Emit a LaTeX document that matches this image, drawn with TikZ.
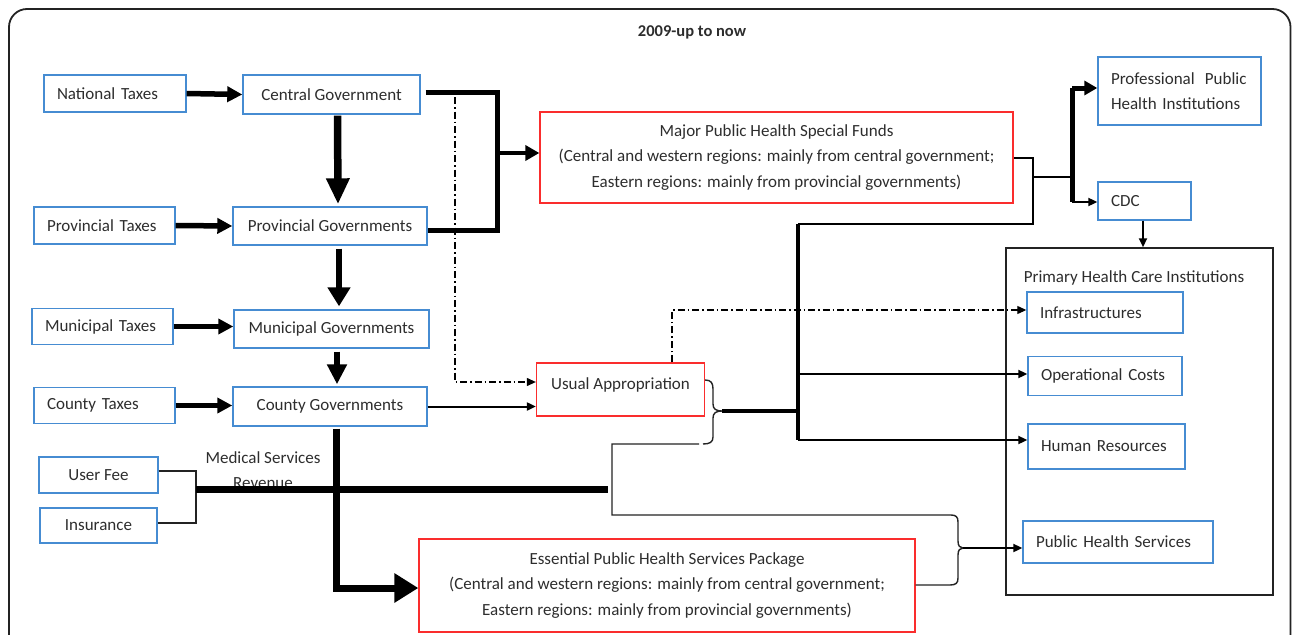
\documentclass[tikz,border=0pt]{standalone}
\usepackage{fontspec}
\setmainfont{Carlito}
\usetikzlibrary{arrows.meta,calc}
\definecolor{bbl}{RGB}{70,140,210}
\definecolor{rd}{RGB}{250,45,45}
\definecolor{tx}{RGB}{45,45,45}
\definecolor{fr}{RGB}{35,35,35}
\begin{document}
\begin{tikzpicture}[x=1pt,y=-1pt,
  every node/.style={font=\fontsize{17}{25.5}\selectfont, text=tx, inner sep=0pt},
  bbox/.style={draw=bbl, line width=1.4pt, align=center},
  lbox/.style={draw=bbl, line width=1.4pt, align=left, inner xsep=13pt, text width=#1},
  rbox/.style={draw=rd, line width=1.3pt, align=center},
  kbox/.style={draw=fr, line width=1.5pt},
  thinl/.style={draw=fr, line width=1.4pt},
  midl/.style={draw=black, line width=2pt},
  smallhead/.style={-{Triangle[length=9pt,width=8pt]}},
  dashdotl/.style={draw=black, line width=1.1pt, dash pattern=on 7pt off 3pt on 1.5pt off 3pt},
  taxarrow/.style={draw=black, line width=5.5pt, -{Triangle[length=15pt,width=15pt]}},
  downarrow/.style={draw=black, line width=6.5pt, -{Triangle[length=#1,width=22pt]}},
]
\clip (0,0) rectangle (1292,634);
\useasboundingbox (0,0) rectangle (1292,634);
% outer frame
\draw[fr, line width=1.8pt, rounded corners=18pt] (9,660) -- (9,9) -- (1290.5,9) -- (1290.5,660);

\node[font=\bfseries\fontsize{16.5}{18}\selectfont] (title) at (692,32) {2009-up to now};

% left column
\node[lbox=116pt, minimum width=142pt, minimum height=37pt] (nat) at (115,93.5) {National Taxes};
\node[bbox, minimum width=177pt, minimum height=39pt] (cen) at (331.5,94.5) {Central Government};
\node[lbox=115pt, minimum width=141pt, minimum height=37pt] (provt) at (104.5,225.5) {Provincial Taxes};
\node[bbox, minimum width=194pt, minimum height=38pt] (prov) at (330,226) {Provincial Governments};
\node[lbox=115pt, minimum width=141pt, minimum height=36pt] (munt) at (102.5,326.5) {Municipal Taxes};
\node[bbox, minimum width=195pt, minimum height=38pt] (mun) at (331.5,329) {Municipal Governments};
\node[lbox=115pt, minimum width=141pt, minimum height=36pt] (cout) at (104.5,405.5) {County Taxes};
\node[bbox, minimum width=194pt, minimum height=39pt] (cou) at (330,406.5) {County Governments};
\node[bbox, minimum width=119pt, minimum height=36pt] (user) at (98.5,475) {User Fee};
\node[bbox, minimum width=117pt, minimum height=35pt] (ins) at (98.5,525.5) {Insurance};
\node[align=center, font=\fontsize{17}{25}\selectfont] (medrev) at (263,470.5) {Medical Services\\Revenue};

% red boxes
\node[rbox, minimum width=473pt, minimum height=91pt] (major) at (776.5,157.5)
  {Major Public Health Special Funds\\(Central and western regions: mainly from central government;\\Eastern regions: mainly from provincial governments)};
\node[rbox, minimum width=168pt, text height=26pt, text depth=27pt] (usual) at (620.5,389.5) {Usual Appropriation};
\node[rbox, minimum width=496pt, minimum height=93pt] (essential) at (667,585.5)
  {Essential Public Health Services Package\\(Central and western regions: mainly from central government;\\Eastern regions: mainly from provincial governments)};

% right column
\node[lbox=137pt, minimum width=163pt, minimum height=68pt] (prof) at (1179.5,91)
  {Professional\hspace{0.6em}Public\\Health Institutions};
\node[lbox=67pt, minimum width=93pt, minimum height=38pt] (cdc) at (1144.5,201) {CDC};
\node[kbox, minimum width=267pt, minimum height=347pt] (phc) at (1139.5,421.5) {};
\node (phctitle) at (1134,278) {Primary Health Care Institutions};
\node[lbox=130pt, minimum width=156pt, minimum height=41pt] (infra) at (1105,312.5) {Infrastructures};
\node[lbox=128pt, minimum width=154pt, minimum height=39pt] (oper) at (1105,376) {Operational Costs};
\node[lbox=131pt, minimum width=157pt, minimum height=45pt] (hum) at (1106.5,446.5) {Human Resources};
\node[lbox=164pt, minimum width=190pt, minimum height=42pt] (phs) at (1118,542) {Public Health Services};

% free-end coordinates
\coordinate (mjA) at (497,92);
\coordinate (mjB) at (497,230);
\coordinate (mjC) at (497,153);
\coordinate (dd) at (455,97);
\coordinate (ddB) at (455,382);
\coordinate (ubA) at (672,310);
\coordinate (brA) at (722,411);
\coordinate (v1) at (798,411);
\coordinate (vt) at (798,224);
\coordinate (vb) at (798,440);
\coordinate (vo) at (798,374);
\coordinate (rq) at (1033,224);
\coordinate (rm) at (1033,177);
\coordinate (rt) at (1072,88);
\coordinate (rb) at (1072,202);
\coordinate (rc) at (1072,177);
\coordinate (jA) at (612,444);
\coordinate (jB) at (612,515);
\coordinate (brB) at (963,548);
\coordinate (fb) at (196,489);
\coordinate (fe) at (608,489);
\coordinate (cd) at (336,588);

% tax arrows
\draw[taxarrow] (nat.east) -- (cen.west);
\draw[taxarrow] (provt.east) -- (prov.west);
\draw[taxarrow] (munt.east) -- (munt.east -| mun.west);
\draw[taxarrow] (cout.east) -- (cout.east -| cou.west);
% government chain
\draw[downarrow=26pt, line width=7.5pt] ($(cen.south)+(6,1)$) -- ($(prov.north)+(8,-2)$);
\draw[downarrow=19pt] ($(prov.south)+(9,3)$) -- ($(mun.north)+(7.5,-3)$);
\draw[draw=black, line width=6.5pt, -{Triangle[length=20pt,width=19pt]}] ($(mun.south)+(5.5,3)$) -- ($(cou.north)+(7,-2)$);

% to major funds
\draw[draw=black, line width=5pt] ($(cen.east)+(5,-2.5)$) -- (mjA) -- (mjB) -- ($(prov.east)+(0,4)$);
\draw[draw=black, line width=4.5pt, -{Triangle[length=14pt,width=15pt]}] (mjC) -- (mjC -| major.west);

% dash-dot usual appropriation
\draw[dashdotl, smallhead] (dd) -- (ddB) -- (ddB -| usual.west);
\draw[midl, smallhead] (cou.east) -- (cou.east -| usual.west);

% county down to essential
\draw[draw=black, line width=7pt, -{Triangle[length=24pt,width=28pt]}] ($(cou.south)+(6,2)$) -- (cd) -- (cd -| essential.west);

% user fee / insurance
\draw[thinl] (user.east |- 0,471) -- (196,471) -- (196,523) -- (ins.east |- 0,523);
\draw[draw=black, line width=7pt] (fb) -- (fe);

% braces
\draw[thinl] (usual.east |- 0,380) .. controls (711,380) and (713,383) .. (713,389) -- (713,404)
  .. controls (713,409) and (716,411) .. (brA)
  .. controls (716,411) and (713,413) .. (713,418) -- (713,437)
  .. controls (713,442) and (710,444) .. (703,444);
\draw[thinl] (699,444) -- (jA) -- (jB) -- (951,515) .. controls (956,515) and (958,517) .. (958,522) -- (958,541)
  .. controls (958,546) and (960,548) .. (brB)
  .. controls (960,548) and (958,550) .. (958,555) -- (958,578)
  .. controls (958,583) and (956,585) .. (950,585) -- (essential.east |- 0,585);
\draw[midl, smallhead] (brB) -- (brB -| phs.west);

% primary care distribution
\draw[draw=black, line width=4.5pt] (brA) -- (v1);
\draw[draw=black, line width=4pt] (vt) -- (vb);
\draw[midl] (vt) -- (rq) -- (rq |- major.east) -- (major.east);
\draw[midl] (rm) -- (rc);
\draw[draw=black, line width=5pt] (rt) -- (rb);
\draw[draw=black, line width=5pt, -{Triangle[length=13pt,width=14pt]}] (rt) -- (rt -| prof.west);
\draw[midl, smallhead] (rb) -- (rb -| cdc.west);
\draw[midl, smallhead] (cdc.south -| 1143,0) -- (phc.north -| 1143,0);
\draw[midl, smallhead] (vo) -- (vo -| oper.west);
\draw[midl, smallhead] (vb) -- (vb -| hum.west);
\draw[dashdotl, smallhead] (usual.north -| ubA) -- (ubA) -- (ubA -| infra.west);
\end{tikzpicture}
\end{document}
